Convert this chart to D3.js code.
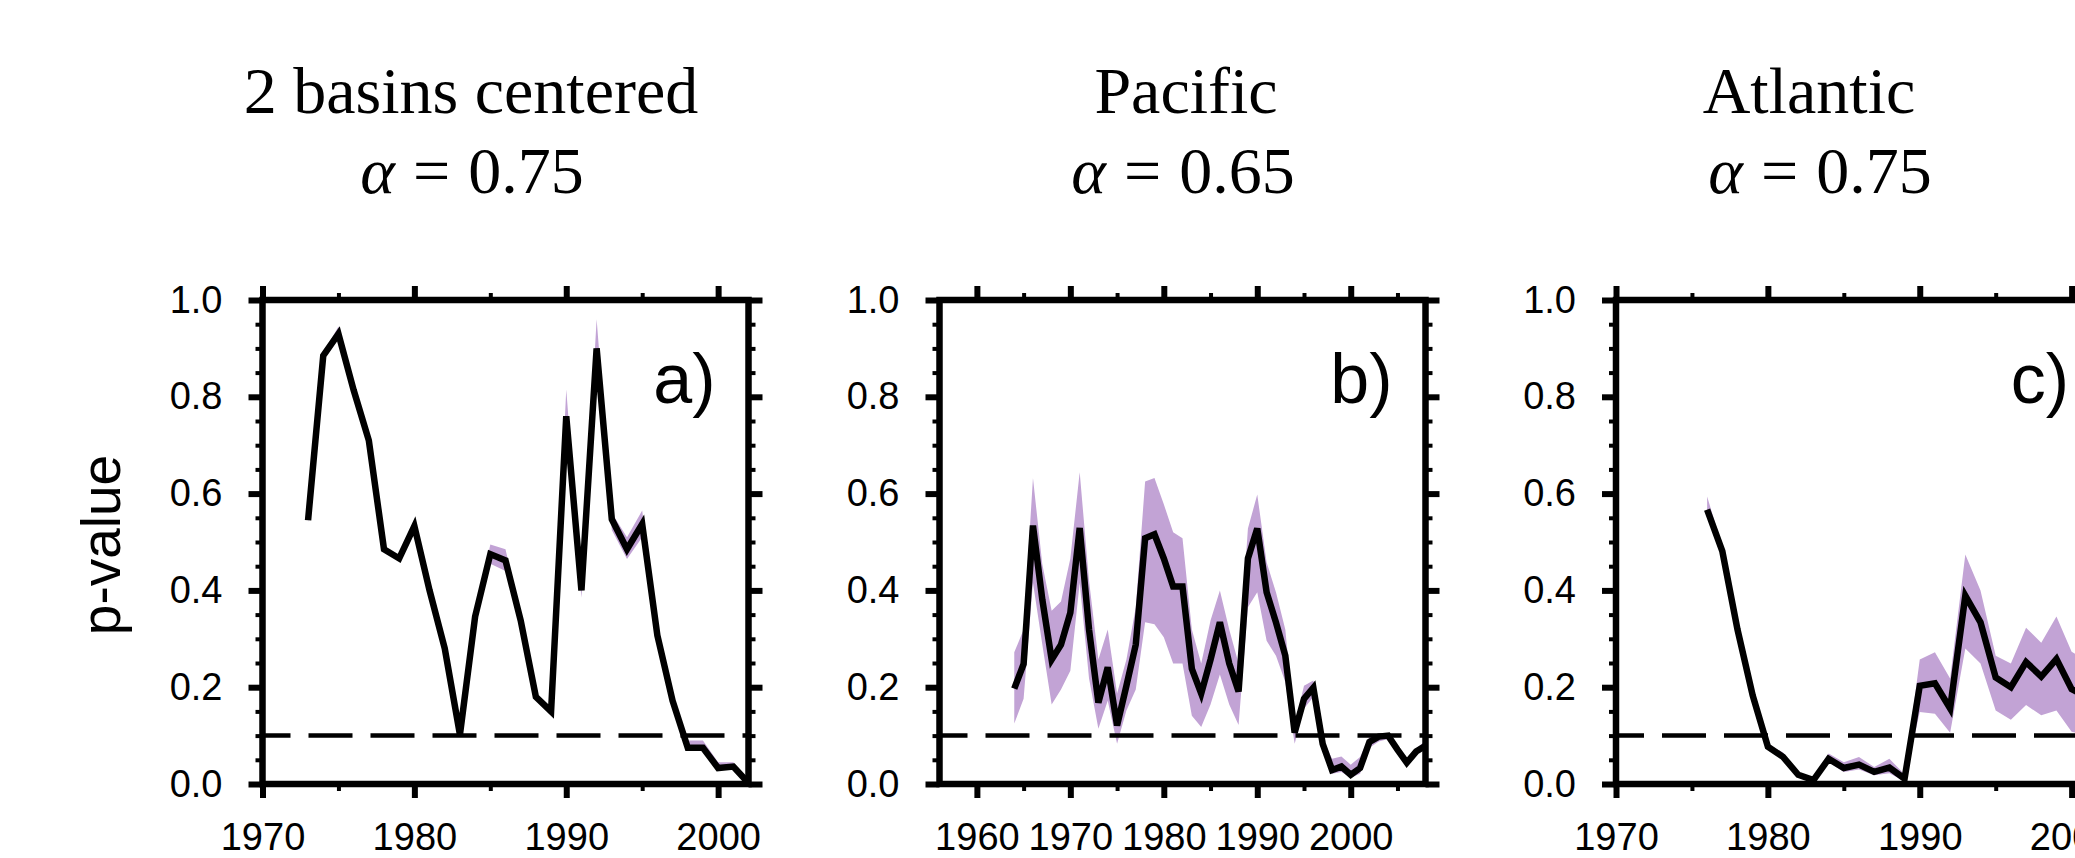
<!DOCTYPE html>
<html lang="en">
<head>
<meta charset="UTF-8">
<title>p-value by basin</title>
<script src="https://d3js.org/d3.v7.min.js"></script>
<style>
  body { margin: 0; background: #fff; }
  svg { display: block; }
  .tick text { font-family: "Liberation Sans", Arial, sans-serif; font-size: 38px; fill: #000; }
  .title { font-family: "Liberation Serif", "Times New Roman", serif; font-size: 66px; fill: #000; }
  .panel-label { font-family: "Liberation Sans", Arial, sans-serif; font-size: 70px; fill: #000; }
  .ylabel { font-family: "Liberation Sans", Arial, sans-serif; font-size: 55px; fill: #000; }
</style>
</head>
<body>
<svg width="2075" height="858"></svg>
<script>
// panel a) 2 basins centered
const yearsA = [1973, 1974, 1975, 1976, 1977, 1978, 1979, 1980, 1981, 1982,
                1983, 1984, 1985, 1986, 1987, 1988, 1989, 1990, 1991, 1992,
                1993, 1994, 1995, 1996, 1997, 1998, 1999, 2000, 2001, 2002];
const pA  = [0.545, 0.885, 0.930, 0.814, 0.710, 0.485, 0.466, 0.533, 0.400, 0.280,
             0.102, 0.346, 0.475, 0.462, 0.338, 0.180, 0.150, 0.760, 0.400, 0.900,
             0.547, 0.485, 0.537, 0.307, 0.172, 0.075, 0.075, 0.033, 0.036, 0.002];
const hiA = [0.550, 0.890, 0.945, 0.820, 0.715, 0.490, 0.470, 0.540, 0.405, 0.285,
             0.105, 0.350, 0.495, 0.485, 0.345, 0.185, 0.155, 0.815, 0.410, 0.960,
             0.560, 0.510, 0.565, 0.315, 0.180, 0.090, 0.090, 0.045, 0.045, 0.005];
const loA = [0.540, 0.875, 0.920, 0.810, 0.705, 0.480, 0.460, 0.525, 0.395, 0.275,
             0.098, 0.340, 0.455, 0.440, 0.330, 0.175, 0.145, 0.730, 0.385, 0.870,
             0.525, 0.465, 0.510, 0.300, 0.165, 0.070, 0.070, 0.030, 0.032, 0.000];

// panel b) Pacific
const yearsB = [1964, 1965, 1966, 1967, 1968, 1969, 1970, 1971, 1972, 1973,
                1974, 1975, 1976, 1977, 1978, 1979, 1980, 1981, 1982, 1983,
                1984, 1985, 1986, 1987, 1988, 1989, 1990, 1991, 1992, 1993,
                1994, 1995, 1996, 1997, 1998, 1999, 2000, 2001, 2002, 2003,
                2004, 2005, 2006, 2007, 2008];
const pB  = [0.197, 0.248, 0.534, 0.381, 0.257, 0.288, 0.354, 0.529, 0.319, 0.168,
             0.241, 0.121, 0.203, 0.288, 0.508, 0.516, 0.466, 0.408, 0.408, 0.238,
             0.187, 0.257, 0.334, 0.249, 0.191, 0.466, 0.528, 0.396, 0.334, 0.265,
             0.106, 0.176, 0.199, 0.083, 0.029, 0.036, 0.019, 0.033, 0.087, 0.098,
             0.100, 0.071, 0.044, 0.067, 0.079];
const hiB = [0.272, 0.319, 0.632, 0.454, 0.358, 0.377, 0.466, 0.644, 0.420, 0.257,
             0.319, 0.187, 0.257, 0.365, 0.625, 0.632, 0.578, 0.520, 0.508, 0.319,
             0.249, 0.338, 0.400, 0.319, 0.249, 0.528, 0.598, 0.458, 0.396, 0.319,
             0.122, 0.203, 0.214, 0.094, 0.052, 0.057, 0.040, 0.056, 0.098, 0.104,
             0.104, 0.078, 0.050, 0.073, 0.090];
const loB = [0.125, 0.176, 0.416, 0.288, 0.164, 0.195, 0.234, 0.416, 0.218, 0.114,
             0.172, 0.083, 0.152, 0.195, 0.334, 0.330, 0.303, 0.249, 0.249, 0.141,
             0.118, 0.164, 0.226, 0.164, 0.122, 0.365, 0.396, 0.296, 0.265, 0.211,
             0.083, 0.156, 0.180, 0.071, 0.021, 0.025, 0.013, 0.021, 0.075, 0.088,
             0.093, 0.066, 0.040, 0.062, 0.075];

// panel c) Atlantic
const yearsC = [1976, 1977, 1978, 1979, 1980, 1981, 1982, 1983, 1984, 1985,
                1986, 1987, 1988, 1989, 1990, 1991, 1992, 1993, 1994, 1995,
                1996, 1997, 1998, 1999, 2000, 2001];
const pC  = [0.567, 0.481, 0.319, 0.183, 0.077, 0.056, 0.019, 0.008, 0.052, 0.033,
             0.040, 0.025, 0.034, 0.011, 0.203, 0.208, 0.156, 0.389, 0.334, 0.220,
             0.200, 0.252, 0.222, 0.258, 0.196, 0.180];
const hiC = [0.594, 0.490, 0.325, 0.188, 0.082, 0.065, 0.025, 0.012, 0.063, 0.045,
             0.056, 0.035, 0.052, 0.020, 0.257, 0.272, 0.218, 0.474, 0.400, 0.265,
             0.249, 0.323, 0.292, 0.346, 0.273, 0.255];
const loC = [0.560, 0.475, 0.313, 0.178, 0.072, 0.050, 0.014, 0.004, 0.045, 0.025,
             0.030, 0.018, 0.022, 0.005, 0.149, 0.145, 0.106, 0.280, 0.249, 0.152,
             0.133, 0.163, 0.142, 0.152, 0.108, 0.100];

// ticks
const xMajorA = [1970, 1980, 1990, 2000];
const xMinorA = [1975, 1985, 1995];
const xMajorB = [1960, 1970, 1980, 1990, 2000];
const xMinorB = [1965, 1975, 1985, 1995, 2005];
const yMajor = [0, 0.2, 0.4, 0.6, 0.8, 1.0];
const yMinor = [0.05, 0.1, 0.15, 0.25, 0.3, 0.35, 0.45, 0.5, 0.55, 0.65, 0.7, 0.75, 0.85, 0.9, 0.95];
const threshold = 0.1;

const titles = ["2 basins centered", "Pacific", "Atlantic"];
const alphas = ["0.75", "0.65", "0.75"];
const labels = ["a)", "b)", "c)"];

// layout
const plotTop = 300, H = 484, W = 486;
const bandColor = "#c2a3d5";

const svg = d3.select("svg");

const panels = [
  { years: yearsA, p: pA, hi: hiA, lo: loA, domain: [1970, 2002], left: 262.5,
    xMajor: xMajorA, xMinor: xMinorA, t1: 471, t2: 472 },
  { years: yearsB, p: pB, hi: hiB, lo: loB, domain: [1956, 2008], left: 939.5,
    xMajor: xMajorB, xMinor: xMinorB, t1: 1186, t2: 1183 },
  { years: yearsC, p: pC, hi: hiC, lo: loC, domain: [1970, 2002], left: 1616,
    xMajor: xMajorA, xMinor: xMinorA, t1: 1809, t2: 1820 }
];

function styleTicks(sel, width) {
  sel.select(".domain").remove();
  sel.selectAll(".tick line").attr("stroke", "#000").attr("stroke-width", width);
}

panels.forEach((cfg, i) => {
  const x = d3.scaleLinear().domain(cfg.domain).range([0, W]);
  const y = d3.scaleLinear().domain([0, 1]).range([H, 0]);
  const g = svg.append("g").attr("transform", `translate(${cfg.left},${plotTop})`);

  const rows = cfg.years.map((yr, k) => ({ year: yr, p: cfg.p[k], hi: cfg.hi[k], lo: cfg.lo[k] }));

  // spread band
  g.append("path")
    .datum(rows)
    .attr("fill", bandColor)
    .attr("d", d3.area().x(d => x(d.year)).y0(d => y(d.lo)).y1(d => y(d.hi)));

  // 0.1 significance line
  g.append("line")
    .attr("x1", 0).attr("x2", W)
    .attr("y1", y(threshold)).attr("y2", y(threshold))
    .attr("stroke", "#000")
    .attr("stroke-width", 4.5)
    .attr("stroke-dasharray", "44 18")
    .attr("stroke-dashoffset", 16);

  // p-value line
  g.append("path")
    .datum(rows)
    .attr("fill", "none")
    .attr("stroke", "#000")
    .attr("stroke-width", 6.5)
    .attr("stroke-linejoin", "miter")
    .attr("d", d3.line().x(d => x(d.year)).y(d => y(d.p)));

  // axes: major and minor ticks on all four sides, pointing out
  g.append("g").attr("transform", `translate(0,${H})`)
    .call(d3.axisBottom(x).tickValues(cfg.xMajor).tickSize(14).tickPadding(25).tickFormat(d3.format("d")))
    .call(s => styleTicks(s, 6));
  g.append("g").attr("transform", `translate(0,${H})`)
    .call(d3.axisBottom(x).tickValues(cfg.xMinor).tickSize(7).tickFormat(""))
    .call(s => styleTicks(s, 4));
  g.append("g")
    .call(d3.axisTop(x).tickValues(cfg.xMajor).tickSize(14).tickFormat(""))
    .call(s => styleTicks(s, 6));
  g.append("g")
    .call(d3.axisTop(x).tickValues(cfg.xMinor).tickSize(7).tickFormat(""))
    .call(s => styleTicks(s, 4));
  g.append("g")
    .call(d3.axisLeft(y).tickValues(yMajor).tickSize(14).tickPadding(26).tickFormat(d3.format(".1f")))
    .call(s => styleTicks(s, 6));
  g.append("g")
    .call(d3.axisLeft(y).tickValues(yMinor).tickSize(7).tickFormat(""))
    .call(s => styleTicks(s, 4));
  g.append("g").attr("transform", `translate(${W},0)`)
    .call(d3.axisRight(y).tickValues(yMajor).tickSize(14).tickFormat(""))
    .call(s => styleTicks(s, 6));
  g.append("g").attr("transform", `translate(${W},0)`)
    .call(d3.axisRight(y).tickValues(yMinor).tickSize(7).tickFormat(""))
    .call(s => styleTicks(s, 4));

  // frame
  g.append("rect")
    .attr("width", W).attr("height", H)
    .attr("fill", "none")
    .attr("stroke", "#000")
    .attr("stroke-width", 6.5);

  // panel letter
  g.append("text")
    .attr("class", "panel-label")
    .attr("x", W - 33).attr("y", 103)
    .attr("text-anchor", "end")
    .text(labels[i]);

  // titles
  svg.append("text")
    .attr("class", "title")
    .attr("x", cfg.t1).attr("y", 113)
    .attr("text-anchor", "middle")
    .text(titles[i]);
  const t = svg.append("text")
    .attr("class", "title")
    .attr("x", cfg.t2).attr("y", 193)
    .attr("text-anchor", "middle");
  t.append("tspan").attr("font-style", "italic").text("α");
  t.append("tspan").attr("dx", 18).text("=");
  t.append("tspan").attr("dx", 18).text(alphas[i]);
});

// shared y label
svg.append("text")
  .attr("class", "ylabel")
  .attr("transform", "translate(120,545) rotate(-90)")
  .attr("text-anchor", "middle")
  .text("p-value");
</script>
</body>
</html>
